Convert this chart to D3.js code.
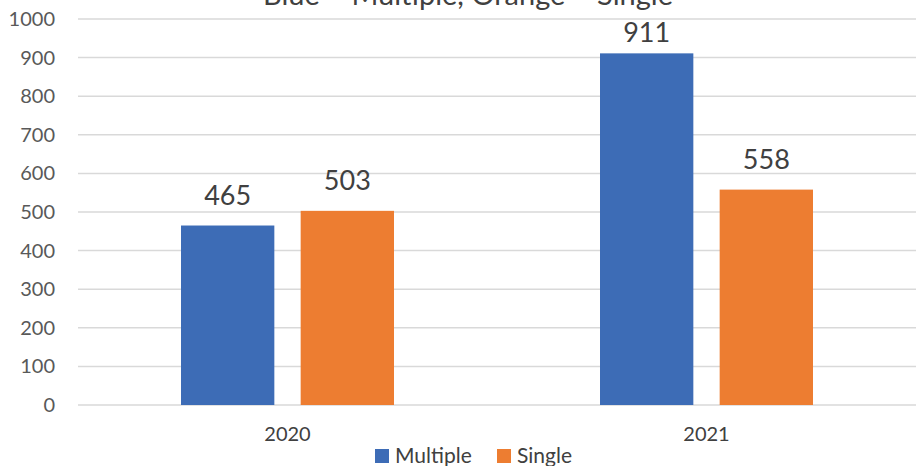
<!DOCTYPE html>
<html>
<head>
<meta charset="utf-8">
<script src="https://cdnjs.cloudflare.com/ajax/libs/d3/7.8.5/d3.min.js"></script>
<style>
  body { margin: 0; background: #fff; }
  text { font-family: Lato, "Noto Sans", sans-serif; }
</style>
</head>
<body>
<div id="chart"></div>
<script>
// chart data
var years = ["2020", "2021"];
var seriesNames = ["Multiple", "Single"];
var multipleValues = [465, 911];
var singleValues = [503, 558];
var yTicks = [0, 100, 200, 300, 400, 500, 600, 700, 800, 900, 1000];

var colors = { Multiple: "#3d6cb6", Single: "#ed7d31" };

var svgWidth = 916;
var svgHeight = 466;

var margin = { top: 19, right: 0, bottom: 61, left: 78 };
var width = svgWidth - margin.left - margin.right;
var height = svgHeight - margin.top - margin.bottom;

var svg = d3.select("#chart")
  .append("svg")
  .attr("width", svgWidth)
  .attr("height", svgHeight);

// cut-off title at the very top
svg.append("text")
  .attr("x", 468)
  .attr("y", 5)
  .attr("text-anchor", "middle")
  .attr("font-size", "29px")
  .attr("fill", "#404040")
  .text("Blue = Multiple, Orange = Single");

var chartGroup = svg.append("g")
  .attr("transform", `translate(${margin.left}, ${margin.top})`);

var xScale = d3.scaleBand()
  .domain(years)
  .range([0, width]);

var xInner = d3.scaleBand()
  .domain(seriesNames)
  .range([0, 213])
  .paddingInner(0.22);

var yScale = d3.scaleLinear()
  .domain([0, 1000])
  .range([height, 0]);

// gridlines
chartGroup.append("g")
  .selectAll("line")
  .data(yTicks)
  .enter()
  .append("line")
  .attr("x1", 0)
  .attr("x2", width)
  .attr("y1", d => yScale(d))
  .attr("y2", d => yScale(d))
  .attr("stroke", "#d9d9d9")
  .attr("stroke-width", 1.5);

// y axis labels
var leftAxis = d3.axisLeft(yScale)
  .tickValues(yTicks)
  .tickFormat(d3.format("d"))
  .tickSize(0)
  .tickPadding(23);
var yAxis = chartGroup.append("g").call(leftAxis);
yAxis.select(".domain").remove();
yAxis.selectAll("text")
  .attr("font-size", "20px")
  .attr("fill", "#595959")
  .attr("font-family", "Lato, sans-serif");

// x axis labels
var bottomAxis = d3.axisBottom(xScale).tickSize(0).tickPadding(22);
var xAxis = chartGroup.append("g")
  .attr("transform", `translate(0, ${height})`)
  .call(bottomAxis);
xAxis.select(".domain").remove();
xAxis.selectAll("text")
  .attr("font-size", "20px")
  .attr("fill", "#404040")
  .attr("font-family", "Lato, sans-serif");

var barData = [];
years.forEach(function(year, i) {
  barData.push({ year: year, series: "Multiple", value: multipleValues[i] });
  barData.push({ year: year, series: "Single", value: singleValues[i] });
});

var groupOffset = (xScale.bandwidth() - 213) / 2;

chartGroup.selectAll(".bar")
  .data(barData)
  .enter()
  .append("rect")
  .classed("bar", true)
  .attr("x", d => xScale(d.year) + groupOffset + xInner(d.series))
  .attr("y", d => yScale(d.value))
  .attr("width", xInner.bandwidth())
  .attr("height", d => height - yScale(d.value))
  .attr("fill", d => colors[d.series]);

// value labels (kept inside the plot area like excel does)
chartGroup.selectAll(".barLabel")
  .data(barData)
  .enter()
  .append("text")
  .classed("barLabel", true)
  .attr("x", d => xScale(d.year) + groupOffset + xInner(d.series) + xInner.bandwidth() / 2)
  .attr("y", d => Math.max(yScale(d.value) - 21, 23))
  .attr("text-anchor", "middle")
  .attr("font-size", "27px")
  .attr("fill", "#404040")
  .text(d => d.value);

// legend
var legend = svg.append("g")
  .attr("transform", "translate(375, 449)");

var legendX = [0, 122];
seriesNames.forEach(function(name, i) {
  legend.append("rect")
    .attr("x", legendX[i])
    .attr("y", 0)
    .attr("width", 14)
    .attr("height", 14)
    .attr("fill", colors[name]);
  legend.append("text")
    .attr("x", legendX[i] + 20)
    .attr("y", 14)
    .attr("font-size", "21px")
    .attr("fill", "#404040")
    .text(name);
});
</script>
</body>
</html>
